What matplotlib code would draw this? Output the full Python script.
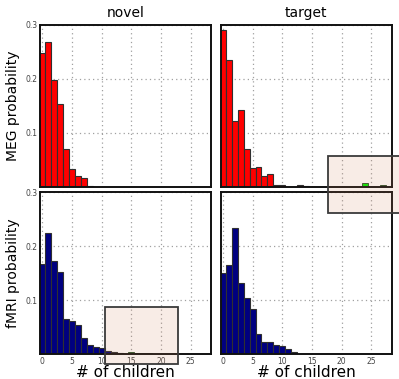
import matplotlib
matplotlib.use("Agg")
import matplotlib.pyplot as plt
from matplotlib.patches import Rectangle

W, H = 399, 379

# bar heights by number of children (0, 1, 2, ...)
meg_novel = [0.248, 0.268, 0.199, 0.153, 0.071, 0.034, 0.020, 0.016, 0.001, 0.0005]
meg_target = [0.291, 0.236, 0.122, 0.142, 0.071, 0.036, 0.0375, 0.021, 0.024,
              0.003, 0.003, 0.0005, 0.0005, 0.004, 0.001]
fmri_novel = [0.168, 0.225, 0.172, 0.152, 0.065, 0.062, 0.054, 0.030, 0.017,
              0.013, 0.012, 0.007, 0.004, 0.0025, 0.001]
fmri_target = [0.150, 0.166, 0.234, 0.132, 0.104, 0.084, 0.038, 0.0235, 0.0235,
               0.017, 0.0155, 0.009, 0.005, 0.001]

# highlighted (green) bars: (position, height, colour)
meg_target_green = [(24, 0.0068, '#00ee00'), (27, 0.0035, '#006000')]
fmri_novel_green = [(15, 0.004, '#00b000'), (16, 0.0025, '#00b000'),
                    (17, 0.0025, '#00b000'), (18, 0.0025, '#00b000')]

col_titles = ['novel', 'target']
row_labels = ['MEG probability', 'fMRI probability']
x_ticks = [0, 5, 10, 15, 20, 25]
y_ticks = [0.1, 0.2, 0.3]

fig = plt.figure(figsize=(W / 100, H / 100), dpi=100)

lefts = [40 / W, 220.5 / W]
bottoms = [1 - 187 / H, 1 - 354.3 / H]
aw, ah = 171 / W, 162 / H

panels = [[(meg_novel, '#ff0000', []), (meg_target, '#ff0000', meg_target_green)],
          [(fmri_novel, '#000080', fmri_novel_green), (fmri_target, '#000080', [])]]

for r in range(2):
    for c in range(2):
        vals, color, greens = panels[r][c]
        ax = fig.add_axes([lefts[c], bottoms[r], aw, ah])
        ax.bar(range(len(vals)), vals, width=1.0, color=color,
               edgecolor='#303030', linewidth=0.8, zorder=3)
        for pos, h, gc in greens:
            ax.bar(pos, h, width=1.0, color=gc, edgecolor='#204020',
                   linewidth=0.6, zorder=3)
        ax.set_xlim(-0.4, 28.4)
        ax.set_ylim(0, 0.3)
        ax.set_xticks(x_ticks)
        ax.set_yticks(y_ticks)
        ax.grid(True, linestyle=(0, (1, 2.5)), color='#a0a0a0', linewidth=0.9, zorder=0)
        ax.tick_params(length=0, labelsize=5.5, labelcolor='#444444', pad=2)
        for s in ax.spines.values():
            s.set_linewidth(1.4)
            s.set_color('#111111')
            s.set_zorder(4)
        if r == 0:
            ax.set_xticklabels([])
            ax.set_title(col_titles[c], fontsize=10, pad=6)
        else:
            ax.set_xlabel('# of children', fontsize=11, labelpad=-1)
        if c == 0:
            ax.set_ylabel(row_labels[r], fontsize=10, labelpad=4)
            ax.set_yticklabels(['0.1', '0.2', '0.3'])
        else:
            ax.set_yticklabels([])

# zoom boxes drawn on top of the figure
boxes = [(105, 307.3, 178.3, 364.3), (328.3, 156, 440, 213.3)]
for x0, y0, x1, y1 in boxes:
    fig.patches.append(Rectangle((x0 / W, 1 - y1 / H), (x1 - x0) / W, (y1 - y0) / H,
                                 transform=fig.transFigure, facecolor=(0.82, 0.5, 0.35, 0.15),
                                 edgecolor='#3a3a3a', linewidth=1.3, zorder=10))

fig.savefig('out.png', dpi=100)
